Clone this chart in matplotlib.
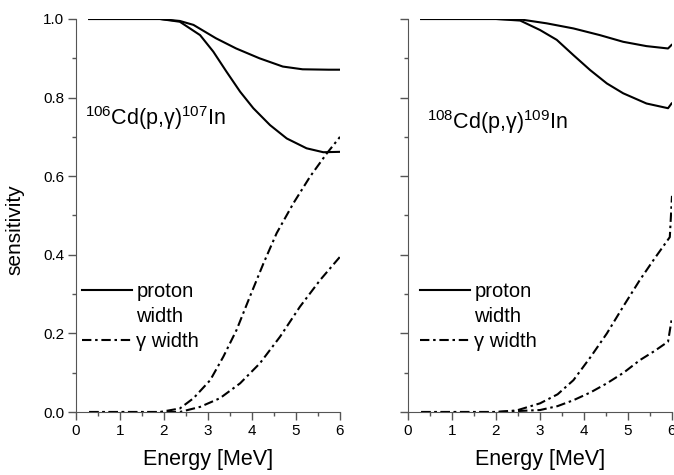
import matplotlib.pyplot as plt
from matplotlib.lines import Line2D
from matplotlib.ticker import MultipleLocator

plt.rcParams['font.family'] = ['Liberation Sans', 'DejaVu Sans']
plt.rcParams['mathtext.fontset'] = 'custom'
plt.rcParams['mathtext.rm'] = 'Liberation Sans'

# 106Cd(p,g)107In panel
e106_p_hi = [0.3, 1.0, 1.91, 2.36, 2.67, 3.18, 3.64, 4.17, 4.70, 5.15, 5.74, 6.0]
s106_p_hi = [1.0, 1.0, 1.0, 0.995, 0.985, 0.951, 0.925, 0.90, 0.879, 0.872, 0.871, 0.871]
e106_p_lo = [0.3, 1.0, 1.91, 2.36, 2.82, 3.12, 3.42, 3.73, 4.03, 4.41, 4.79, 5.24, 5.62, 6.0]
s106_p_lo = [1.0, 1.0, 1.0, 0.993, 0.959, 0.917, 0.866, 0.815, 0.773, 0.730, 0.696, 0.671, 0.661, 0.662]
e106_g_hi = [0.3, 1.0, 1.91, 2.36, 2.67, 3.05, 3.35, 3.65, 3.95, 4.26, 4.56, 4.94, 5.32, 5.70, 6.0]
s106_g_hi = [0.0, 0.0, 0.0, 0.009, 0.035, 0.081, 0.141, 0.209, 0.293, 0.378, 0.455, 0.531, 0.599, 0.658, 0.70]
e106_g_lo = [0.3, 1.0, 1.91, 2.36, 2.82, 3.27, 3.73, 4.18, 4.64, 5.09, 5.55, 6.0]
s106_g_lo = [0.0, 0.0, 0.0, 0.0, 0.013, 0.035, 0.073, 0.124, 0.192, 0.268, 0.336, 0.395]

# 108Cd(p,g)109In panel
e108_p_hi = [0.3, 1.0, 2.0, 2.55, 3.15, 3.76, 4.36, 4.89, 5.42, 5.91, 5.99]
s108_p_hi = [1.0, 1.0, 1.0, 0.999, 0.989, 0.976, 0.959, 0.942, 0.931, 0.925, 0.934]
e108_p_lo = [0.3, 1.0, 2.0, 2.55, 3.0, 3.38, 3.76, 4.14, 4.52, 4.89, 5.42, 5.91, 5.99]
s108_p_lo = [1.0, 1.0, 1.0, 0.996, 0.972, 0.947, 0.908, 0.870, 0.836, 0.811, 0.785, 0.773, 0.785]
e108_g_hi = [0.3, 1.0, 2.0, 2.47, 3.0, 3.4, 3.76, 4.15, 4.52, 4.9, 5.27, 5.6, 5.95, 6.0]
s108_g_hi = [0.0, 0.0, 0.0, 0.004, 0.022, 0.045, 0.081, 0.14, 0.2, 0.27, 0.336, 0.39, 0.445, 0.55]
e108_g_lo = [0.3, 1.0, 2.0, 3.0, 3.4, 3.76, 4.15, 4.52, 4.9, 5.27, 5.6, 5.91, 5.99]
s108_g_lo = [0.0, 0.0, 0.0, 0.005, 0.015, 0.03, 0.05, 0.073, 0.1, 0.132, 0.155, 0.179, 0.234]

x_ticks = [0, 1, 2, 3, 4, 5, 6]
y_ticks = [0.0, 0.2, 0.4, 0.6, 0.8, 1.0]

dashdot = (0, (4.5, 1.8, 1.2, 1.8))
lw = 1.5
axis_grey = '#555555'

fig = plt.figure(figsize=(6.74, 4.75), dpi=100)
ax1 = fig.add_axes([76 / 674, 1 - 412 / 475, 264 / 674, 393 / 475])
ax2 = fig.add_axes([408 / 674, 1 - 412 / 475, 264 / 674, 393 / 475])

panels = [
    (ax1, e106_p_hi, s106_p_hi, e106_p_lo, s106_p_lo, e106_g_hi, s106_g_hi, e106_g_lo, s106_g_lo,
     r'$\mathregular{^{106}}$Cd(p,γ)$\mathregular{^{107}}$In', (0.034, 0.73), 0.023),
    (ax2, e108_p_hi, s108_p_hi, e108_p_lo, s108_p_lo, e108_g_hi, s108_g_hi, e108_g_lo, s108_g_lo,
     r'$\mathregular{^{108}}$Cd(p,γ)$\mathregular{^{109}}$In', (0.072, 0.72), 0.045),
]

for ax, ep1, sp1, ep2, sp2, eg1, sg1, eg2, sg2, title, title_pos, leg_x in panels:
    ax.plot(ep1, sp1, color='black', lw=lw)
    ax.plot(ep2, sp2, color='black', lw=lw)
    ax.plot(eg1, sg1, color='black', lw=lw, linestyle=dashdot)
    ax.plot(eg2, sg2, color='black', lw=lw, linestyle=dashdot)

    ax.set_xlim(0, 6)
    ax.set_ylim(0, 1.0)
    ax.set_xticks(x_ticks)
    ax.set_yticks(y_ticks)
    ax.xaxis.set_minor_locator(MultipleLocator(0.5))
    ax.yaxis.set_minor_locator(MultipleLocator(0.1))
    ax.tick_params(which='major', direction='out', length=5.5, width=1, color=axis_grey,
                   labelsize=11, pad=3)
    ax.tick_params(which='minor', direction='out', length=3, width=1, color=axis_grey)
    for side in ['top', 'right']:
        ax.spines[side].set_visible(False)
    for side in ['left', 'bottom']:
        ax.spines[side].set_color(axis_grey)
    ax.set_xlabel('Energy [MeV]', fontsize=15.5, labelpad=8)

    ax.text(title_pos[0], title_pos[1], title, transform=ax.transAxes, fontsize=15.5,
            va='baseline', ha='left')

    handles = [Line2D([], [], color='black', lw=lw),
               Line2D([], [], color='none'),
               Line2D([], [], color='black', lw=lw, linestyle=dashdot)]
    ax.legend(handles, ['proton', 'width', 'γ width'], loc='upper left',
              bbox_to_anchor=(leg_x, 0.33), frameon=False, fontsize=14.5,
              handlelength=2.5, handletextpad=0.2, labelspacing=0.28,
              borderaxespad=0.0, borderpad=0.0)

ax1.set_ylabel('sensitivity', fontsize=15)
ax1.yaxis.set_label_coords(-0.195, 0.463)
ax2.set_yticklabels([])

fig.savefig('out.png', dpi=100)
